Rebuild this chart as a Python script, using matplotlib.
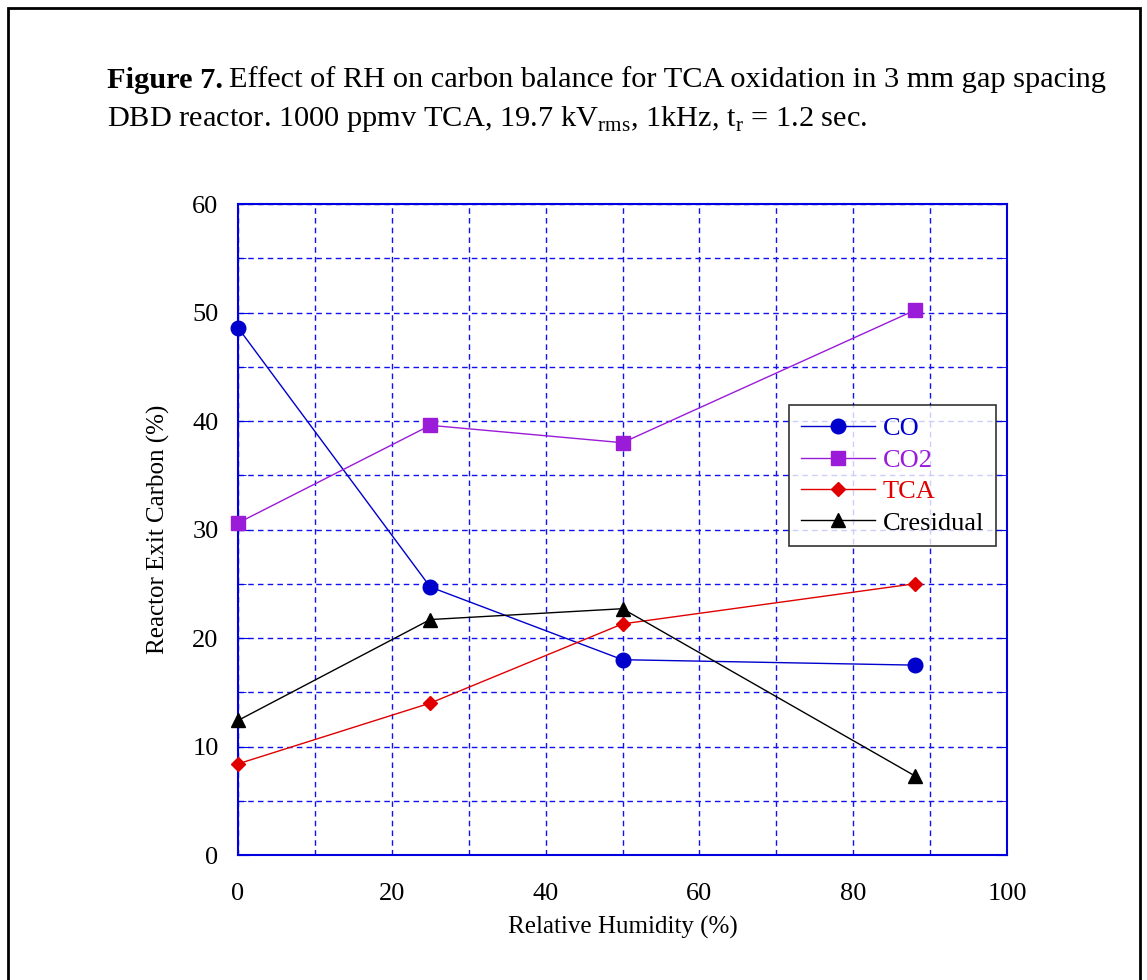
import matplotlib
matplotlib.use("Agg")
import matplotlib.pyplot as plt
from matplotlib.patches import Rectangle
from matplotlib.ticker import MultipleLocator

# ---------- data ---------------------------------------------------------
rh = [0, 25, 50, 88]
co = [48.6, 24.7, 18.0, 17.5]
co2 = [30.6, 39.6, 38.0, 50.2]
tca = [8.4, 14.0, 21.3, 25.0]
cresidual = [12.4, 21.7, 22.7, 7.3]

series_names = ["CO", "CO2", "TCA", "Cresidual"]

# ---------- style ---------------------------------------------------------
plt.rcParams["font.family"] = ["Liberation Serif", "DejaVu Serif"]
plt.rcParams["mathtext.fontset"] = "custom"
plt.rcParams["mathtext.rm"] = "Liberation Serif"

blue = "#0000E0"
grid_blue = "#1010F0"
colors = ["#0000CC", "#9A1BD8", "#E00000", "#000000"]
markers = ["o", "s", "D", "^"]
msizes = [10.5, 10.5, 7.5, 9.5]

W, H = 1147, 980
fig = plt.figure(figsize=(W / 100, H / 100), dpi=100)

# outer frame of the figure
fig.patches.append(Rectangle((8 / W, -0.05), (1140 - 8) / W, 1.05 - 8 / H,
                             transform=fig.transFigure, fill=False,
                             edgecolor="black", lw=2.0))

# caption (bold label followed by plain text)
cap_size = 21.9
bold = fig.text(107 / W, 1 - 80 / H, "Figure 7.", fontsize=cap_size,
                fontweight="bold", va="center", ha="left")
renderer = fig.canvas.get_renderer()
bb = bold.get_window_extent(renderer)
fig.text(bb.x1 / W + 6 / W, 1 - 80 / H,
         "Effect of RH on carbon balance for TCA oxidation in 3 mm gap spacing",
         fontsize=cap_size, va="center", ha="left")
fig.text(107 / W, 1 - 119 / H,
         r"DBD reactor. 1000 ppmv TCA, 19.7 kV$_{\mathrm{rms}}$, 1kHz, t$_{\mathrm{r}}$ = 1.2 sec.",
         fontsize=cap_size, va="center", ha="left")

ax = fig.add_axes([238 / W, 1 - 855 / H, (1007 - 238) / W, (855 - 204) / H])

series = [co, co2, tca, cresidual]
for name, ys, c, mk, ms in zip(series_names, series, colors, markers, msizes):
    ax.plot(rh, ys, color=c, lw=1.0, marker=mk, markersize=ms,
            markerfacecolor=c, markeredgecolor=c, label=name, clip_on=False, zorder=3)

ax.set_xlim(0, 100)
ax.set_ylim(0, 60)
ax.xaxis.set_major_locator(MultipleLocator(20))
ax.xaxis.set_minor_locator(MultipleLocator(10))
ax.yaxis.set_major_locator(MultipleLocator(10))
ax.yaxis.set_minor_locator(MultipleLocator(5))

ax.grid(which="both", color=grid_blue, linestyle=(0, (4, 3)), lw=1.0)
for s in ax.spines.values():
    s.set_color(blue)
    s.set_linewidth(1.5)

ax.tick_params(axis="both", which="both", direction="in", color=blue,
               labelsize=19, labelcolor="black")
ax.tick_params(axis="y", which="major", length=8, pad=14, right=True)
ax.tick_params(axis="y", which="minor", length=6, right=True)
ax.tick_params(axis="x", which="both", length=0, pad=20)

ax.set_xlabel("Relative Humidity (%)", fontsize=18, labelpad=8)
ax.set_ylabel("Reactor Exit Carbon (%)", fontsize=18, labelpad=16)

leg = ax.legend(loc="upper left", bbox_to_anchor=((789 - 238) / 769, (855 - 405) / 651),
                fontsize=19, frameon=True, fancybox=False, handlelength=2.8,
                borderpad=0.45, labelspacing=0.3, handletextpad=0.3, borderaxespad=0)
leg.get_frame().set_edgecolor("black")
leg.get_frame().set_linewidth(1.2)
for txt, c in zip(leg.get_texts(), colors):
    txt.set_color(c)

fig.savefig("out.png", dpi=100)
